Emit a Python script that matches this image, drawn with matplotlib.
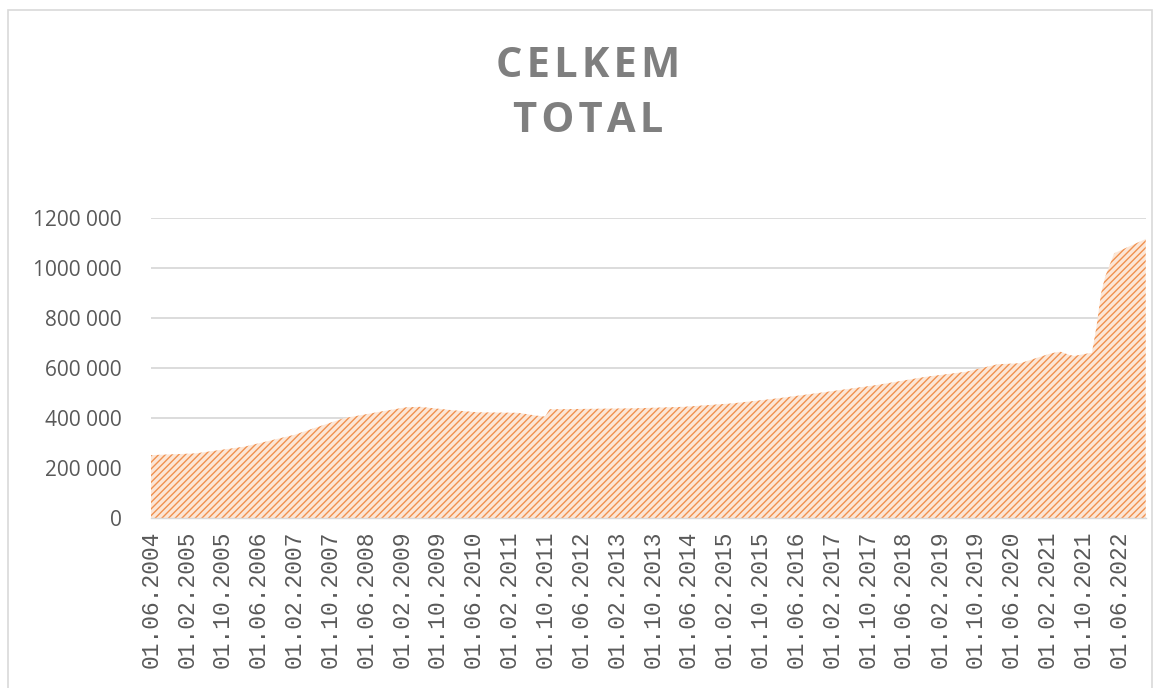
import matplotlib
matplotlib.use("Agg")
import matplotlib.pyplot as plt
from matplotlib.patches import Rectangle
import pandas as pd

# values (month, total)
dates = [
    "2004-06", "2005-04", "2006-03", "2007-02", "2008-01", "2008-09",
    "2009-03", "2009-06", "2010-01", "2010-07", "2011-04", "2011-08",
    "2011-10", "2011-11", "2013-06", "2014-05", "2015-04", "2016-02",
    "2017-01", "2017-12", "2018-11", "2019-08", "2020-03", "2020-08",
    "2021-03", "2021-05", "2021-07", "2021-08", "2021-12", "2022-01",
    "2022-02", "2022-03", "2022-05", "2022-12",
]
totals = [
    252000, 259000, 286000, 333000, 399000, 425000,
    443000, 445000, 432000, 423000, 421000, 410000,
    406000, 435000, 439000, 445000, 459000, 479000,
    505000, 532000, 565000, 585000, 615000, 619000,
    659000, 665000, 652000, 648000, 661000, 765000,
    898000, 965000, 1058000, 1115000,
]
y_ticks = [0, 200000, 400000, 600000, 800000, 1000000, 1200000]
title_lines = ["CELKEM", "TOTAL"]

x = pd.to_datetime(dates)
x_ticks = pd.date_range("2004-06-01", "2022-06-01", freq="8MS")

W, H = 1161, 688
fig = plt.figure(figsize=(W / 100, H / 100), dpi=100)
fig.patch.set_facecolor("white")

# chart frame (left and top edges visible)
fig.patches.append(Rectangle((8 / W, -0.05), (1152 - 8) / W, 1.05 - 10 / H,
                             transform=fig.transFigure, fill=False,
                             edgecolor="#d9d9d9", linewidth=1.2))

ax = fig.add_axes([150.7 / W, 1 - 518.3 / H, 995 / W, 300.6 / H])

plt.rcParams["hatch.linewidth"] = 1.0
ax.fill_between(x, totals, 0, facecolor="#fce6d6", edgecolor="#f0914f",
                hatch="/////", linewidth=0, zorder=2)

ax.set_xlim(x[0], x[-1])
ax.set_ylim(0, 1200000)
ax.set_yticks(y_ticks)
ax.set_yticklabels([f"{v // 1000} {v % 1000:03d}" if v else "0" for v in y_ticks],
                   fontfamily="Open Sans", fontsize=15, color="#595959")
ax.set_xticks(x_ticks)
ax.set_xticklabels([d.strftime("%d.%m.%Y") for d in x_ticks], rotation=90,
                   fontfamily="Liberation Mono", fontsize=16.5, color="#595959")
ax.tick_params(axis="both", length=0)
ax.tick_params(axis="y", pad=21)
ax.tick_params(axis="x", pad=9)

ax.grid(axis="y", color="#d9d9d9", linewidth=1.3, zorder=1)
ax.set_axisbelow(True)
for side in ["top", "right", "left"]:
    ax.spines[side].set_visible(False)
ax.spines["bottom"].set_color("#d9d9d9")
ax.spines["bottom"].set_linewidth(1.0)

# title with widened letter spacing
for line, ypix in zip(title_lines, [76.7, 131.7]):
    fig.text(588 / W, 1 - ypix / H, "\u200a".join(line), ha="center", va="baseline",
             fontsize=30, fontweight="bold", color="#7f7f7f",
             family=["Open Sans", "DejaVu Sans"])

fig.savefig("out.png", dpi=100)
